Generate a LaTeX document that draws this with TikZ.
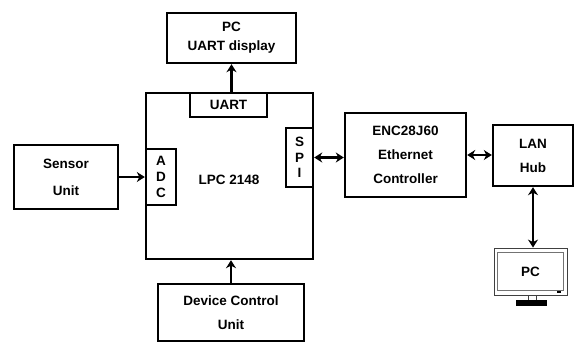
\documentclass[tikz,border=0pt]{standalone}
\usepackage{fontspec}
\setmainfont{Liberation Sans}
\usetikzlibrary{positioning,arrows.meta}
\tikzset{
	blk/.style={draw,line width=2.4pt,align=center,inner sep=0pt,font=\bfseries\fontsize{13.5}{24}\selectfont},
	arr/.style={line width=2.4pt,-{Stealth[length=8pt,width=10pt,inset=2.5pt]}},
	darr/.style={line width=2.4pt,{Stealth[length=8pt,width=10pt,inset=2.5pt]}-{Stealth[length=8pt,width=10pt,inset=2.5pt]}}
}
\begin{document}
\begin{tikzpicture}[x=1pt,y=-1pt]
		\useasboundingbox[fill=white](0,0) rectangle (575,343);
		\node[blk,minimum width=129pt,minimum height=50pt,font=\bfseries\fontsize{13.5}{19}\selectfont] (pcu) at (231.5,38) {PC\\UART display};
		\node[blk,minimum width=167pt,minimum height=166pt] (lpc) at (229.5,176) {};
		\node[font=\bfseries\fontsize{13.5}{16}\selectfont] (chip) at (229,180) {LPC 2148};
		\node[blk,minimum width=77pt,minimum height=24pt] (uart) at (228.5,105) {UART};
		\node[blk,minimum width=30pt,minimum height=56pt,font=\bfseries\fontsize{13.5}{16}\selectfont] (adc) at (161,177) {A\\D\\C};
		\node[blk,minimum width=27pt,minimum height=59pt,font=\bfseries\fontsize{13.5}{15.5}\selectfont] (spi) at (299.5,157.5) {S\\P\\I};
		\node[blk,minimum width=104pt,minimum height=64pt,font=\bfseries\fontsize{13.5}{27}\selectfont] (sensor) at (66,177) {Sensor\\Unit};
		\node[blk,minimum width=121pt,minimum height=84pt] (enc) at (405.5,155) {ENC28J60\\Ethernet\\Controller};
		\node[blk,minimum width=80pt,minimum height=61pt] (lan) at (533,155.5) {LAN\\Hub};
		\node[blk,minimum width=146pt,minimum height=57pt] (dcu) at (231,312.5) {Device Control\\Unit};
		\node[draw=black!75,line width=0.9pt,minimum width=73pt,minimum height=47pt,font=\bfseries\fontsize{13.5}{16}\selectfont] (mon) at (530.5,271.5) {PC};
		\draw[black!55,line width=1.5pt]([shift={(4,5)}]mon.north west) rectangle ([shift={(-4,-5)}]mon.south east);
		\fill([shift={(-10,-4)}]mon.south east) rectangle ([shift={(-6,-2)}]mon.south east);
		\foreach \x in{528,536}
		\draw[black!75,line width=0.8pt](\x,295)--(\x,300);
		\fill(516,300) rectangle (547,306);
		\draw[arr](lpc.north -| pcu.south)--(pcu.south);
		\draw[arr](sensor.east)--(adc.west);
		\draw[darr](spi.east)--(spi.east -| enc.west);
		\draw[darr](enc.east)--(enc.east -| lan.west);
		\draw[darr](lan.south)--(lan.south |- mon.north);
		\draw[arr](dcu.north)--(dcu.north |- lpc.south);
	\end{tikzpicture}
\end{document}
